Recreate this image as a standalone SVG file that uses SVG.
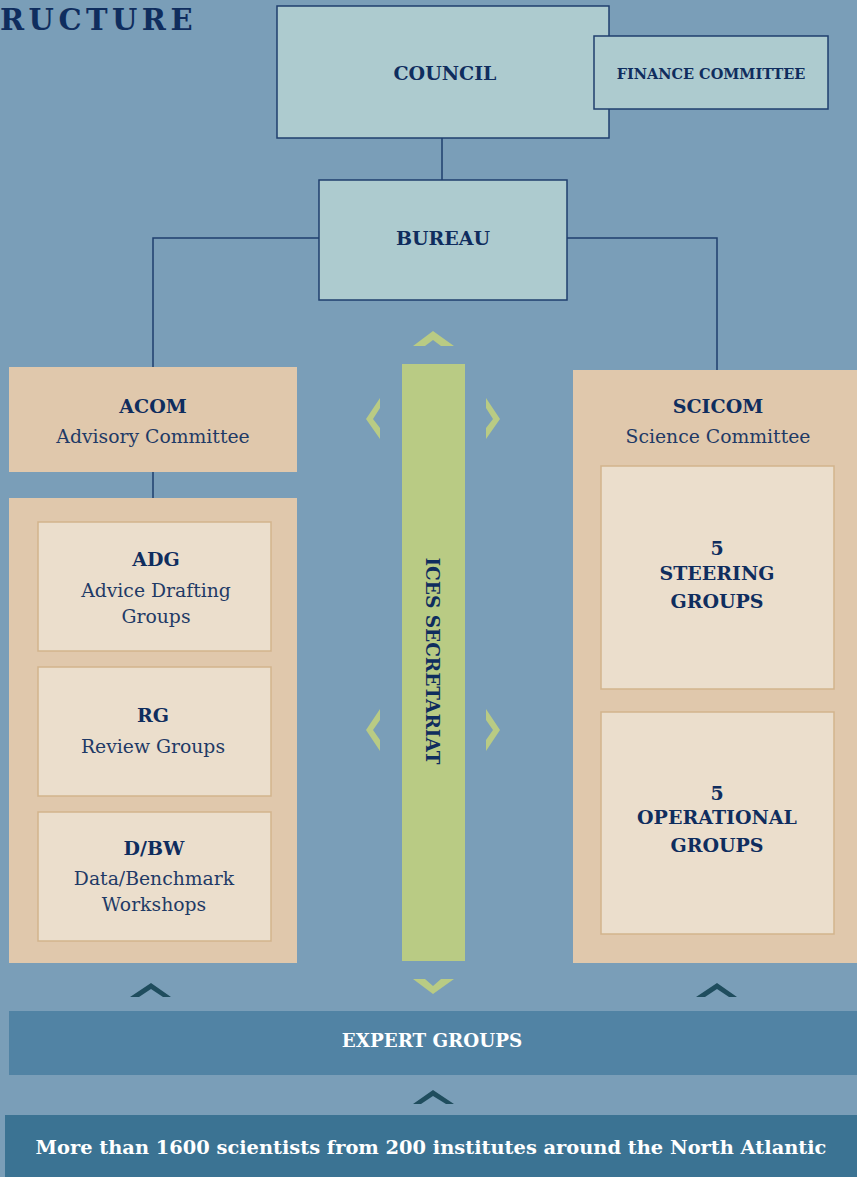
<svg xmlns="http://www.w3.org/2000/svg" width="857" height="1177" viewBox="0 0 857 1177">
<style>
.bg{fill:#7A9EB8}
.top{fill:#ADCBCF;stroke:#1F3F6E;stroke-width:1.5}
.tan{fill:#E0C8AC}
.inner{fill:#EBDECC;stroke:#D2B48C;stroke-width:1.5}
.h{font-family:"DejaVu Serif",serif;font-weight:bold;fill:#0F2D5E;text-anchor:middle;font-size:19px}
.s{font-family:"DejaVu Serif",serif;fill:#1F3A66;text-anchor:middle;font-size:18.8px}
.w{font-family:"DejaVu Serif",serif;font-weight:bold;fill:#FFFFFF;text-anchor:middle}
.ln{fill:none;stroke:#1F3F6E;stroke-width:1.5}
.gc{fill:#B9CB84}
.dc{fill:#1F4D5E}
</style>
<rect class="bg" x="0" y="0" width="857" height="1177"/>
<text x="0" y="30" font-family="DejaVu Serif, serif" font-weight="bold" font-size="29" fill="#0F2D5E" letter-spacing="4.5">RUCTURE</text>

<g id="connectors">
<path class="ln" d="M442 138 V180"/>
<path class="ln" d="M319 238 H153 V367"/>
<path class="ln" d="M567 238 H717 V370"/>
<path class="ln" d="M153 472 V498"/>
</g>

<g id="council">
<rect class="top" x="277" y="6" width="332" height="132"/>
<text class="h" x="445" y="80">COUNCIL</text>
</g>
<g id="finance">
<rect class="top" x="594" y="36" width="234" height="73"/>
<text class="h" x="711" y="79" style="font-size:14.5px">FINANCE COMMITTEE</text>
</g>
<g id="bureau">
<rect class="top" x="319" y="180" width="248" height="120"/>
<text class="h" x="443" y="245">BUREAU</text>
</g>

<g id="acom">
<rect class="tan" x="9" y="367" width="288" height="105"/>
<text class="h" x="153" y="413">ACOM</text>
<text class="s" x="153" y="443">Advisory Committee</text>
</g>
<g id="acom-groups">
<rect class="tan" x="9" y="498" width="288" height="465"/>
</g>
<g id="adg">
<rect class="inner" x="38" y="522" width="233" height="129"/>
<text class="h" x="156" y="566">ADG</text>
<text class="s" x="156" y="597">Advice Drafting</text>
<text class="s" x="156" y="623">Groups</text>
</g>
<g id="rg">
<rect class="inner" x="38" y="667" width="233" height="129"/>
<text class="h" x="153" y="722">RG</text>
<text class="s" x="153" y="753">Review Groups</text>
</g>
<g id="dbw">
<rect class="inner" x="38" y="812" width="233" height="129"/>
<text class="h" x="154" y="855">D/BW</text>
<text class="s" x="154" y="885">Data/Benchmark</text>
<text class="s" x="154" y="911">Workshops</text>
</g>

<g id="scicom">
<rect class="tan" x="573" y="370" width="284" height="593"/>
<text class="h" x="718" y="413">SCICOM</text>
<text class="s" x="718" y="443">Science Committee</text>
</g>
<g id="steering">
<rect class="inner" x="601" y="466" width="233" height="223"/>
<text class="h" x="717" y="555">5</text>
<text class="h" x="717" y="580">STEERING</text>
<text class="h" x="717" y="608">GROUPS</text>
</g>
<g id="operational">
<rect class="inner" x="601" y="712" width="233" height="222"/>
<text class="h" x="717" y="800">5</text>
<text class="h" x="717" y="824">OPERATIONAL</text>
<text class="h" x="717" y="852">GROUPS</text>
</g>

<g id="secretariat">
<rect class="gc" x="402" y="364" width="63" height="597"/>
<text class="h" transform="translate(426 661) rotate(90)" style="font-size:18.5px">ICES SECRETARIAT</text>
<polygon class="gc" points="433,331 454,346 441,346 433,340 425,346 413,346"/>
<polygon class="gc" points="380,398 366,419 380,439 380,428 373,419 380,408"/>
<polygon class="gc" points="486,398 500,419 486,439 486,428 493,419 486,408"/>
<polygon class="gc" points="380,709 366,730 380,751 380,740 373,730 380,720"/>
<polygon class="gc" points="486,709 500,730 486,751 486,740 493,730 486,720"/>
<polygon class="gc" points="413,979 425,979 433,986 441,979 454,979 433,994"/>
</g>

<g id="chevrons">
<polygon class="dc" points="151,983 171,997 163,997 151,989 139,997 130,997"/>
<polygon class="dc" points="717,983 737,997 729,997 717,989 705,997 696,997"/>
<polygon class="dc" points="433,1090 454,1104 446,1104 433,1096 421,1104 413,1104"/>
</g>

<g id="expert">
<rect x="9" y="1011" width="848" height="64" fill="#5183A4"/>
<text class="w" x="432" y="1047" style="font-size:18.3px">EXPERT GROUPS</text>
</g>
<g id="scientists">
<rect x="5" y="1115" width="852" height="62" fill="#3B7393"/>
<text class="w" x="431" y="1154" style="font-size:19.4px">More than 1600 scientists from 200 institutes around the North Atlantic</text>
</g>
</svg>
